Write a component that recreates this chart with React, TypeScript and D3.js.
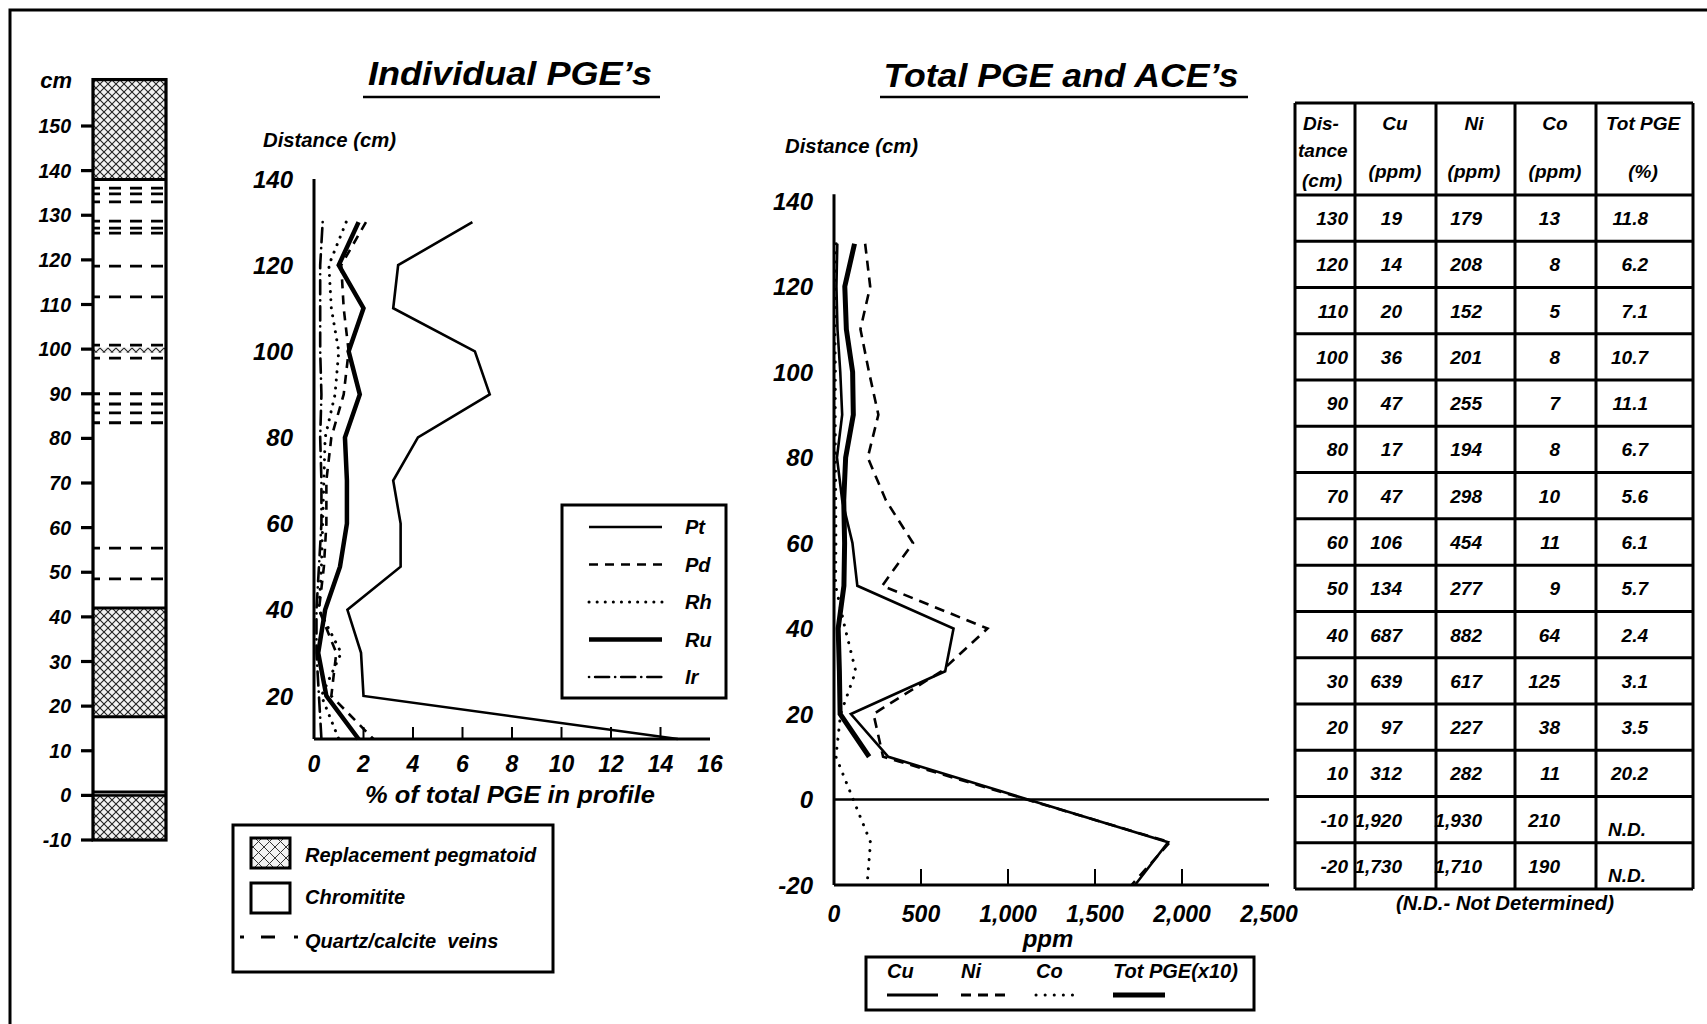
import React from "react";
import * as d3 from "d3";

// ---------- data ----------
// Sample distances (cm) used by the PGE plot
const pgeDistances = [130, 120, 110, 100, 90, 80, 70, 60, 50, 40, 30, 20, 10];
// % of total PGE in profile, per element
const ptValues = [6.4, 3.4, 3.2, 6.5, 7.1, 4.2, 3.2, 3.5, 3.5, 1.35, 1.9, 2.0, 14.7];
const pdValues = [2.1, 1.1, 1.2, 1.4, 1.2, 0.7, 0.5, 0.5, 0.4, 0.2, 0.9, 0.7, 2.4];
const rhValues = [1.3, 0.6, 0.7, 1.0, 0.85, 0.45, 0.4, 0.35, 0.3, 0.2, 1.1, 0.3, 1.0];
const ruValues = [1.8, 1.0, 2.0, 1.4, 1.85, 1.25, 1.33, 1.33, 1.05, 0.45, 0.17, 0.5, 1.8];
const irValues = [0.35, 0.25, 0.25, 0.25, 0.3, 0.25, 0.3, 0.3, 0.2, 0.1, 0.1, 0.2, 0.3];

// Assay table
const distances = [130, 120, 110, 100, 90, 80, 70, 60, 50, 40, 30, 20, 10, -10, -20];
const cuPpm = [19, 14, 20, 36, 47, 17, 47, 106, 134, 687, 639, 97, 312, 1920, 1730];
const niPpm = [179, 208, 152, 201, 255, 194, 298, 454, 277, 882, 617, 227, 282, 1930, 1710];
const coPpm = [13, 8, 5, 8, 7, 8, 10, 11, 9, 64, 125, 38, 11, 210, 190];
const totPgePct: (number | null)[] = [11.8, 6.2, 7.1, 10.7, 11.1, 6.7, 5.6, 6.1, 5.7, 2.4, 3.1, 3.5, 20.2, null, null];

// Axis ticks
const columnTicks = [150, 140, 130, 120, 110, 100, 90, 80, 70, 60, 50, 40, 30, 20, 10, 0, -10];
const pgeYTicks = [140, 120, 100, 80, 60, 40, 20];
const pgeXTicks = [0, 2, 4, 6, 8, 10, 12, 14, 16];
const aceYTicks = [140, 120, 100, 80, 60, 40, 20, 0, -20];
const aceXTicks = [0, 500, 1000, 1500, 2000, 2500];

// Stratigraphic column (cm)
const pegmatoidBands: [number, number][] = [[138, 160.4], [17.6, 42], [-10, 0]];
const contactDepths = [138, 42, 17.6];
const veinDepths = [136.1, 134.8, 133.0, 128.7, 127.1, 126.0, 118.6, 111.7, 100.9, 98.0, 90.0, 87.7, 85.7, 83.5, 55.4, 48.5];
const thinPegmatoidBand: [number, number] = [99.2, 100.3];

const FONT = "'Liberation Sans', Arial, Helvetica, sans-serif";
const T = { fontFamily: FONT, fontWeight: 700, fontStyle: "italic" as const, fill: "#000" };

type Pt = { d: number; v: number };

export default function App() {
  // ---------- scales ----------
  const yCol = d3.scaleLinear().domain([-10, 150]).range([840, 126]);
  const colX0 = 93, colX1 = 166;

  const xP = d3.scaleLinear().domain([0, 16]).range([314, 710]);
  const yP = d3.scaleLinear().domain([10, 140]).range([739, 179]);

  const xA = d3.scaleLinear().domain([0, 2500]).range([834, 1269]);
  const yA = d3.scaleLinear().domain([-20, 140]).range([885, 201]);

  const lineP = d3.line<Pt>().x((p) => xP(p.v)).y((p) => yP(p.d));
  const lineA = d3.line<Pt>().x((p) => xA(p.v)).y((p) => yA(p.d));
  const ser = (ds: number[], vs: (number | null)[], k = 1): Pt[] =>
    ds.map((d, i) => ({ d, v: vs[i] })).filter((p) => p.v != null).map((p) => ({ d: p.d, v: (p.v as number) * k }));

  const pgeSeries = [
    { name: "Pt", vals: ptValues, w: 2.6, dash: undefined as string | undefined, cap: "butt" },
    { name: "Pd", vals: pdValues, w: 2.6, dash: "9 7", cap: "butt" },
    { name: "Rh", vals: rhValues, w: 3, dash: "0.1 8", cap: "round" },
    { name: "Ru", vals: ruValues, w: 4.5, dash: undefined, cap: "butt" },
    { name: "Ir", vals: irValues, w: 2.6, dash: "0.1 6 14 6", cap: "round" },
  ];

  const aceSeries = [
    { name: "Cu", pts: ser(distances, cuPpm), w: 2.6, dash: undefined as string | undefined, cap: "butt" },
    { name: "Ni", pts: ser(distances, niPpm), w: 2.6, dash: "10 7", cap: "butt" },
    { name: "Co", pts: ser(distances, coPpm), w: 3, dash: "0.1 9", cap: "round" },
    { name: "Tot PGE(x10)", pts: ser(distances.slice(0, 13), totPgePct.slice(0, 13), 10), w: 5, dash: undefined, cap: "butt" },
  ];

  // ---------- table ----------
  const colEdges = [1295, 1355, 1436, 1515, 1596, 1693];
  const tableTop = 103, headBottom = 195, tableBottom = 889;
  const rowBand = d3.scaleBand<string>().domain(distances.map(String)).range([headBottom, tableBottom]);
  const fmt = d3.format(",");

  return (
    <svg
      width={1707}
      height={1024}
      viewBox="0 0 1707 1024"
      style={{ position: "absolute", left: 0, top: 0, background: "#fff" }}
    >
      <defs>
        <pattern id="hatch" width={8} height={8} patternUnits="userSpaceOnUse">
          <rect width={8} height={8} fill="#f2f2f2" />
          <path d="M0,0 L8,8 M8,0 L0,8" stroke="#222" strokeWidth={1.1} />
        </pattern>
        <pattern id="hatchBig" width={11} height={11} patternUnits="userSpaceOnUse">
          <rect width={11} height={11} fill="#f2f2f2" />
          <path d="M0,0 L11,11 M11,0 L0,11" stroke="#333" strokeWidth={1} />
        </pattern>
      </defs>

      {/* frame */}
      <path d="M10,1024 L10,10 L1707,10" fill="none" stroke="#000" strokeWidth={3} />

      {/* ---------- stratigraphic column ---------- */}
      <text x={72} y={88} textAnchor="end" fontSize={22} {...T}>cm</text>
      {pegmatoidBands.map(([a, b], i) => (
        <rect key={i} x={colX0} y={yCol(b)} width={colX1 - colX0} height={yCol(a) - yCol(b)} fill="url(#hatch)" />
      ))}
      <rect
        x={colX0}
        y={yCol(thinPegmatoidBand[1])}
        width={colX1 - colX0}
        height={yCol(thinPegmatoidBand[0]) - yCol(thinPegmatoidBand[1])}
        fill="url(#hatch)"
      />
      <rect x={colX0} y={yCol(0.8)} width={colX1 - colX0} height={yCol(0) - yCol(0.8)} fill="#888" />
      {veinDepths.map((v, i) => (
        <line key={i} x1={colX0} x2={colX1} y1={yCol(v)} y2={yCol(v)} stroke="#000" strokeWidth={2.8} strokeDasharray="12 9" strokeDashoffset={5} />
      ))}
      {contactDepths.map((v, i) => (
        <line key={i} x1={colX0} x2={colX1} y1={yCol(v)} y2={yCol(v)} stroke="#000" strokeWidth={3} />
      ))}
      <line x1={colX0} x2={colX1} y1={yCol(0.8)} y2={yCol(0.8)} stroke="#000" strokeWidth={2.5} />
      <line x1={colX0} x2={colX1} y1={yCol(0)} y2={yCol(0)} stroke="#000" strokeWidth={2.5} />
      <rect x={colX0} y={yCol(160.4)} width={colX1 - colX0} height={yCol(-10) - yCol(160.4)} fill="none" stroke="#000" strokeWidth={3.2} />
      {columnTicks.map((t) => (
        <g key={t}>
          <line x1={81} x2={colX0} y1={yCol(t)} y2={yCol(t)} stroke="#000" strokeWidth={3.2} />
          <text x={71} y={yCol(t)} dy="0.36em" textAnchor="end" fontSize={19.5} {...T}>{t}</text>
        </g>
      ))}

      {/* ---------- Individual PGE's ---------- */}
      <text x={510} y={85} textAnchor="middle" fontSize={34} textLength={284} lengthAdjust="spacingAndGlyphs" {...T}>
        Individual PGE’s
      </text>
      <line x1={363} x2={660} y1={97} y2={97} stroke="#000" strokeWidth={2.5} />
      <text x={263} y={147} fontSize={19.5} textLength={133} lengthAdjust="spacingAndGlyphs" {...T}>Distance (cm)</text>

      {pgeSeries.map((s) => (
        <path
          key={s.name}
          d={lineP(ser(pgeDistances, s.vals)) || ""}
          fill="none"
          stroke="#000"
          strokeWidth={s.w}
          strokeDasharray={s.dash}
          strokeLinecap={s.cap as any}
          strokeLinejoin="miter"
        />
      ))}

      <line x1={xP(0)} x2={xP(0)} y1={yP(140)} y2={yP(10)} stroke="#000" strokeWidth={3} />
      <line x1={xP(0)} x2={xP(16)} y1={yP(10)} y2={yP(10)} stroke="#000" strokeWidth={3} />
      {pgeXTicks.map((t) => (
        <g key={t}>
          {t > 0 && t < 16 && <line x1={xP(t)} x2={xP(t)} y1={yP(10)} y2={yP(10) - 12} stroke="#000" strokeWidth={2} />}
          <text x={xP(t)} y={772} textAnchor="middle" fontSize={23} {...T}>{t}</text>
        </g>
      ))}
      {pgeYTicks.map((t) => (
        <text key={t} x={293} y={yP(t)} dy="0.36em" textAnchor="end" fontSize={24} {...T}>{t}</text>
      ))}
      <text x={510} y={803} textAnchor="middle" fontSize={23.5} textLength={290} lengthAdjust="spacingAndGlyphs" {...T}>
        % of total PGE in profile
      </text>

      {/* PGE legend */}
      <rect x={562} y={505} width={164} height={193} fill="#fff" stroke="#000" strokeWidth={3} />
      {pgeSeries.map((s, i) => {
        const y = 527 + i * 37.5;
        return (
          <g key={s.name}>
            <line
              x1={589}
              x2={662}
              y1={y}
              y2={y}
              stroke="#000"
              strokeWidth={s.w}
              strokeDasharray={s.dash}
              strokeLinecap={s.cap as any}
            />
            <text x={685} y={y + 7} fontSize={20} {...T}>{s.name}</text>
          </g>
        );
      })}

      {/* lithology legend */}
      <rect x={233} y={825} width={320} height={147} fill="#fff" stroke="#000" strokeWidth={3} />
      <rect x={251} y={838} width={39} height={30} fill="url(#hatchBig)" stroke="#000" strokeWidth={3} />
      <text x={305} y={862} fontSize={20} {...T}>Replacement pegmatoid</text>
      <rect x={251} y={883} width={39} height={30} fill="#fff" stroke="#000" strokeWidth={3} />
      <text x={305} y={904} fontSize={20} {...T}>Chromitite</text>
      {[[240, 244], [261, 275], [294, 298]].map(([a, b], i) => (
        <line key={i} x1={a} x2={b} y1={937} y2={937} stroke="#000" strokeWidth={3} />
      ))}
      <text x={305} y={948} fontSize={20} {...T} style={{ whiteSpace: "pre" }}>
        Quartz/calcite  veins
      </text>

      {/* ---------- Total PGE and ACE's ---------- */}
      <text x={1061} y={87} textAnchor="middle" fontSize={34} textLength={355} lengthAdjust="spacingAndGlyphs" {...T}>
        Total PGE and ACE’s
      </text>
      <line x1={880} x2={1248} y1={97} y2={97} stroke="#000" strokeWidth={2.5} />
      <text x={785} y={153} fontSize={19.5} textLength={133} lengthAdjust="spacingAndGlyphs" {...T}>Distance (cm)</text>

      {aceSeries.map((s) => (
        <path
          key={s.name}
          d={lineA(s.pts) || ""}
          fill="none"
          stroke="#000"
          strokeWidth={s.w}
          strokeDasharray={s.dash}
          strokeLinecap={s.cap as any}
        />
      ))}

      <line x1={xA(0)} x2={xA(0)} y1={yA(141.6)} y2={yA(-20)} stroke="#000" strokeWidth={3} />
      <line x1={xA(0)} x2={xA(2500)} y1={yA(-20)} y2={yA(-20)} stroke="#000" strokeWidth={3} />
      <line x1={xA(0)} x2={xA(2500)} y1={yA(0)} y2={yA(0)} stroke="#000" strokeWidth={2.6} />
      {aceXTicks.map((t) => (
        <g key={t}>
          {t > 0 && t < 2500 && <line x1={xA(t)} x2={xA(t)} y1={yA(-20)} y2={yA(-20) - 16} stroke="#000" strokeWidth={2} />}
          <text x={xA(t)} y={922} textAnchor="middle" fontSize={23} {...T}>{fmt(t)}</text>
        </g>
      ))}
      {aceYTicks.map((t) => (
        <text key={t} x={813} y={yA(t)} dy="0.36em" textAnchor="end" fontSize={24} {...T}>{t}</text>
      ))}
      <text x={1048} y={947} textAnchor="middle" fontSize={24} {...T}>ppm</text>

      {/* ACE legend */}
      <rect x={866} y={957} width={388} height={53} fill="#fff" stroke="#000" strokeWidth={3} />
      {aceSeries.map((s, i) => {
        const xs = [887, 961, 1036, 1113];
        const lens = [51, 47, 44, 52];
        return (
          <g key={s.name}>
            <text x={xs[i]} y={978} fontSize={20} {...T}>{s.name}</text>
            <line
              x1={xs[i]}
              x2={xs[i] + lens[i]}
              y1={995}
              y2={995}
              stroke="#000"
              strokeWidth={s.w === 5 ? 5 : 3}
              strokeDasharray={s.dash}
              strokeLinecap={s.cap as any}
            />
          </g>
        );
      })}

      {/* ---------- assay table ---------- */}
      <g>
        <text x={1303} y={130} fontSize={19} {...T}>Dis-</text>
        <text x={1298} y={157} fontSize={19} {...T}>tance</text>
        <text x={1302} y={187} fontSize={19} {...T}>(cm)</text>
        {[
          ["Cu", "(ppm)", 1395],
          ["Ni", "(ppm)", 1474],
          ["Co", "(ppm)", 1555],
          ["Tot PGE", "(%)", 1643],
        ].map(([a, b, x]) => (
          <g key={a as string}>
            <text x={x as number} y={130} textAnchor="middle" fontSize={19} {...T}>{a}</text>
            <text x={x as number} y={178} textAnchor="middle" fontSize={19} {...T}>{b}</text>
          </g>
        ))}
        {distances.map((d, i) => {
          const y0 = rowBand(String(d)) as number;
          const yc = y0 + rowBand.bandwidth() / 2 + 7;
          const pge = totPgePct[i];
          return (
            <g key={d}>
              <text x={1348} y={yc} textAnchor="end" fontSize={19} {...T}>{d}</text>
              <text x={1402} y={yc} textAnchor="end" fontSize={19} {...T}>{fmt(cuPpm[i])}</text>
              <text x={1482} y={yc} textAnchor="end" fontSize={19} {...T}>{fmt(niPpm[i])}</text>
              <text x={1560} y={yc} textAnchor="end" fontSize={19} {...T}>{fmt(coPpm[i])}</text>
              {pge != null ? (
                <text x={1648} y={yc} textAnchor="end" fontSize={19} {...T}>{pge.toFixed(1)}</text>
              ) : (
                <text x={1608} y={yc + 9} fontSize={19} {...T}>N.D.</text>
              )}
            </g>
          );
        })}
        {colEdges.map((x, i) => (
          <line key={i} x1={x} x2={x} y1={tableTop} y2={tableBottom} stroke="#000" strokeWidth={3} />
        ))}
        {[tableTop, headBottom, ...distances.map((d) => (rowBand(String(d)) as number) + rowBand.bandwidth())].map((y, i) => (
          <line key={i} x1={colEdges[0]} x2={colEdges[5]} y1={y} y2={y} stroke="#000" strokeWidth={3} />
        ))}
        <text x={1505} y={910} textAnchor="middle" fontSize={19.5} textLength={218} lengthAdjust="spacingAndGlyphs" {...T}>
          (N.D.- Not Determined)
        </text>
      </g>
    </svg>
  );
}
